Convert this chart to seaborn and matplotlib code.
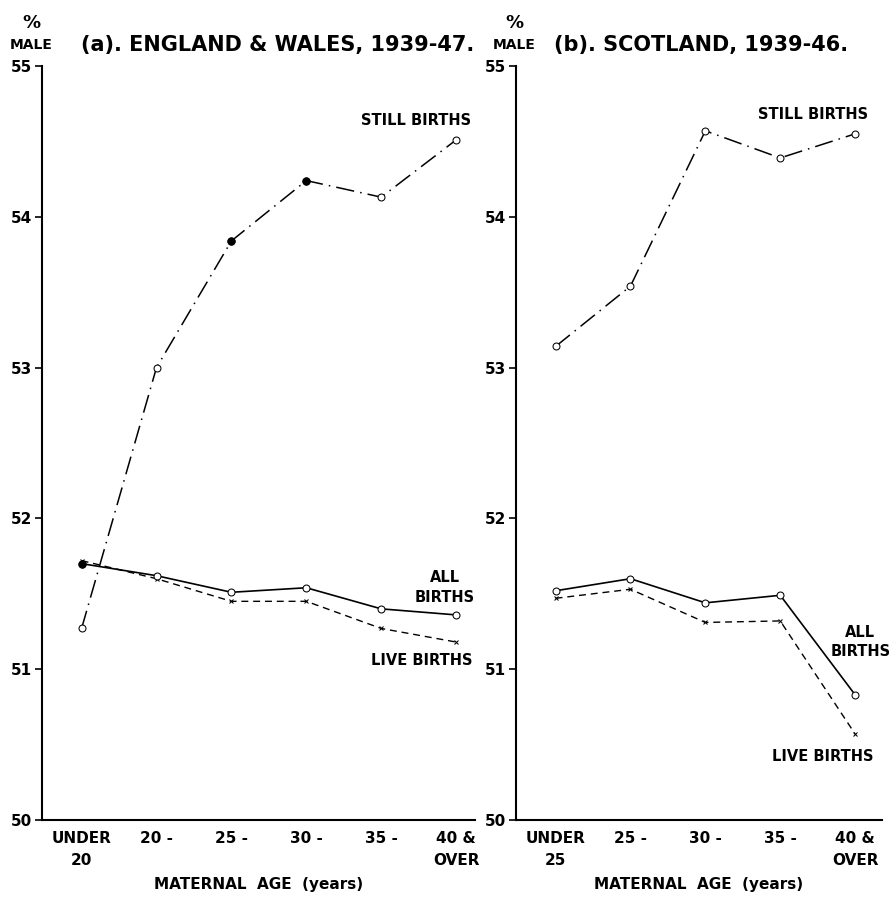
import matplotlib
matplotlib.use("Agg")
import matplotlib.pyplot as plt
import seaborn as sns
import pandas as pd

# Maternal age groups
ew_ages = ["UNDER\n20", "20 -", "25 -", "30 -", "35 -", "40 &\nOVER"]
sc_ages = ["UNDER\n25", "25 -", "30 -", "35 -", "40 &\nOVER"]

# Percentage male, England & Wales 1939-47
ew_still = [51.27, 53.00, 53.84, 54.24, 54.13, 54.51]
ew_all = [51.70, 51.62, 51.51, 51.54, 51.40, 51.36]
ew_live = [51.72, 51.60, 51.45, 51.45, 51.27, 51.18]

# Percentage male, Scotland 1939-46
sc_still = [53.14, 53.54, 54.57, 54.39, 54.55]
sc_all = [51.52, 51.60, 51.44, 51.49, 50.83]
sc_live = [51.47, 51.53, 51.31, 51.32, 50.57]

sns.set_theme(style="white")
plt.rcParams["font.family"] = ["DejaVu Sans"]
plt.rcParams["font.weight"] = "bold"
for key in ("text.color", "axes.labelcolor", "xtick.color", "ytick.color"):
    plt.rcParams[key] = "black"

fig = plt.figure(figsize=(8.91, 9.0), dpi=100)
ax_a = fig.add_axes([0.047, 0.0889, 0.486, 0.8378])
ax_b = fig.add_axes([0.579, 0.0889, 0.411, 0.8378])


def frame(ages, still, allb, live):
    rows = []
    for name, vals in (("STILL", still), ("ALL", allb), ("LIVE", live)):
        for i, v in enumerate(vals):
            rows.append({"pos": i, "age": ages[i], "series": name, "pct": v})
    return pd.DataFrame(rows)


styles = {
    "STILL": dict(linestyle=(0, (12, 4, 1, 4)), marker="o", markersize=5,
                  markerfacecolor="white", markeredgecolor="black", lw=1.1),
    "ALL": dict(linestyle="-", marker="o", markersize=5,
                markerfacecolor="white", markeredgecolor="black", lw=1.2),
    "LIVE": dict(linestyle=(0, (5, 3.5)), marker="x", markersize=3.5,
                 markeredgecolor="black", lw=1.0),
}


def draw(ax, ages, still, allb, live, title, xmax, title_x, male_x):
    df = frame(ages, still, allb, live)
    for name in ("LIVE", "ALL", "STILL"):
        sub = df[df["series"] == name]
        sns.lineplot(data=sub, x="pos", y="pct", ax=ax, color="black",
                     sort=False, legend=False, **styles[name])
    ax.set_xlim(-0.53, xmax)
    ax.set_ylim(50, 55)
    ax.set_yticks([50, 51, 52, 53, 54, 55])
    ax.set_yticklabels(["50", "51", "52", "53", "54", "55"], fontsize=11,
                       fontweight="bold")
    ax.set_xticks(range(len(ages)))
    ax.set_xticklabels(ages, fontsize=11, fontweight="bold", linespacing=1.6,
                       va="top")
    ax.tick_params(axis="y", direction="out", length=5, width=1.2, pad=2,
                   left=True)
    ax.tick_params(axis="x", length=0, pad=8)
    for s in ("top", "right"):
        ax.spines[s].set_visible(False)
    for s in ("left", "bottom"):
        ax.spines[s].set_color("black")
        ax.spines[s].set_linewidth(1.5)
    ax.set_xlabel("MATERNAL  AGE  (years)", fontsize=11, fontweight="bold",
                  labelpad=6)
    ax.set_ylabel("")
    ax.grid(False)
    ax.text(title_x, 1.015, title, transform=ax.transAxes, fontsize=15,
            fontweight="bold", ha="left", va="bottom")
    ax.text(male_x, 1.018, "MALE", transform=ax.transAxes, fontsize=10,
            fontweight="bold", ha="center", va="bottom")
    ax.text(male_x, 1.045, "%", transform=ax.transAxes, fontsize=13,
            fontweight="bold", ha="center", va="bottom")


draw(ax_a, ew_ages, ew_still, ew_all, ew_live,
     "(a). ENGLAND & WALES, 1939-47.", 5.25, 0.09, -0.025)
draw(ax_b, sc_ages, sc_still, sc_all, sc_live,
     "(b). SCOTLAND, 1939-46.", 4.36, 0.105, -0.005)

# solid dots where the England & Wales points are drawn filled
for ax, vals, idx in ((ax_a, ew_still, [2, 3]), (ax_a, ew_all, [0])):
    ax.plot(idx, [vals[i] for i in idx], "o", color="black", markersize=5,
            zorder=5)

lab = dict(fontsize=10.5, fontweight="bold", color="black")
ax_a.text(5.2, 54.64, "STILL BIRTHS", ha="right", va="center", **lab)
ax_a.text(4.85, 51.54, "ALL\nBIRTHS", ha="center", va="center",
          linespacing=1.4, **lab)
ax_a.text(5.22, 51.06, "LIVE BIRTHS", ha="right", va="center", **lab)

ax_b.text(4.17, 54.675, "STILL BIRTHS", ha="right", va="center", **lab)
ax_b.text(4.07, 51.18, "ALL\nBIRTHS", ha="center", va="center",
          linespacing=1.4, **lab)
ax_b.text(4.24, 50.42, "LIVE BIRTHS", ha="right", va="center", **lab)

fig.savefig("out.png", dpi=100, facecolor="white")
